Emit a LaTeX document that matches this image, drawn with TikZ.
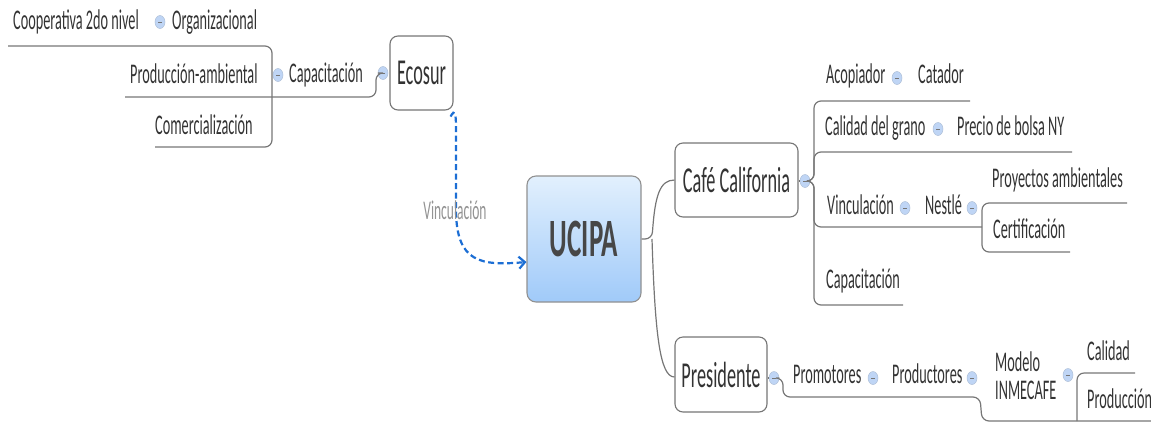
\documentclass[tikz,border=0pt]{standalone}
\usepackage{fontspec}
\setmainfont{Carlito}[FakeStretch=0.5]
\usetikzlibrary{arrows.meta,shapes.geometric,positioning}
\definecolor{inkgray}{HTML}{333333}
\definecolor{branchgray}{HTML}{767676}
\definecolor{foldblue}{HTML}{BFD5F5}
\definecolor{linkblue}{HTML}{1C6ED4}
\definecolor{ucipatop}{HTML}{E2F0FD}
\definecolor{ucipabot}{HTML}{A0CAF9}
\tikzset{
    topic/.style={draw=branchgray, rounded corners=8pt, line width=1.1pt, fill=white,
        text=inkgray, inner sep=0pt, font=\fontsize{36.5}{40}\selectfont},
    central/.style={draw=branchgray!80, rounded corners=9pt, line width=1.1pt,
        top color=ucipatop, bottom color=ucipabot, text=inkgray!90,
        minimum width=114pt, minimum height=126pt, font=\fontsize{54}{58}\selectfont\bfseries},
    sub/.style={anchor=base west, inner sep=0pt, text=inkgray, font=\fontsize{28.5}{28}\selectfont},
    fold/.style={ellipse, fill=foldblue, draw=foldblue!75!gray, line width=0.5pt,
        minimum width=10pt, minimum height=13pt, inner sep=0pt,
        path picture={\draw[branchgray, line width=0.7pt]
            ([xshift=-2pt]path picture bounding box.center) -- ([xshift=2pt]path picture bounding box.center);}},
    branch/.style={draw=branchgray, line width=1.2pt, rounded corners=7pt},
    link/.style={draw=linkblue, line width=2.2pt, dash pattern=on 6pt off 3.5pt,
        -{Straight Barb[length=6pt, width=12pt, line width=2.2pt]}}
}

\begin{document}
\begin{tikzpicture}[x=1pt, y=-1pt]
    \useasboundingbox (0,0) rectangle (1151,424);

    % main topics
    \node[central] (ucipa) at (584,239) {UCIPA};
    \node[topic, minimum width=63pt, minimum height=74pt] (ecosur) at (421.5,73) {Ecosur};
    \node[topic, minimum width=123pt, minimum height=74pt] (cafe) at (736.5,180) {Café California};
    \node[topic, minimum width=92pt, minimum height=75pt] (presid) at (721,374.5) {Presidente};

    % left branch
    \node[sub] (coop) at (13,29) {Cooperativa 2do nivel};
    \node[sub] (organiz) at (172,29) {Organizacional};
    \node[sub] (prodamb) at (130,83) {Producción-ambiental};
    \node[sub] (capL) at (289,82) {Capacitación};
    \node[sub] (comerc) at (155,134) {Comercialización};
    \node[fold] (fOrganiz) at (160,22) {};
    \node[fold] (fCapL) at (278,75) {};
    \node[fold] (fEcosur) at (383,73) {};

    \coordinate (uCoop) at (8,46);
    \coordinate (uComerc) at (155,147);
    \coordinate (uProdamb) at (125,97);
    \draw[branch] (uCoop) -- (272,46) -- (272,147) -- (uComerc);
    \draw[branch] (uProdamb) -- (376,97) -- (376,73) -- (fEcosur.west);

    % link between Ecosur and UCIPA
    \draw[link] ([shift={(-3pt,-6pt)}]ecosur.south east)
        .. controls (455,108) and (456,114) .. (456,128) -- (456,212)
        .. controls (457,262) and (480,266) .. (ucipa.west |- 0,262);
    \node[text=gray!85, font=\fontsize{27}{30}\selectfont, inner sep=0pt] (vincL) at (455,210) {Vinculación};

    % right branches
    \draw[branch] (ucipa.east) -- (652,239)
        .. controls (655,195) and (660,180) .. (cafe.west);
    \draw[branch] (652,239)
        .. controls (655,335) and (660,377) .. (presid.west |- 0,377);

    % Café California
    \node[fold] (fCafe) at (805,181) {};
    \draw[branch] (cafe.east |- fCafe) -- (fCafe.west);
    \node[sub] (acop) at (826,83) {Acopiador};
    \node[sub] (catador) at (918,83) {Catador};
    \node[sub] (calgrano) at (825,135) {Calidad del grano};
    \node[sub] (precio) at (957,135) {Precio de bolsa NY};
    \node[sub] (vinc) at (827,214) {Vinculación};
    \node[sub] (nestle) at (925,214) {Nestlé};
    \node[sub] (proyamb) at (992,187) {Proyectos ambientales};
    \node[sub] (certif) at (993,238) {Certificación};
    \node[sub] (capR) at (826,288) {Capacitación};
    \node[fold] (fAcop) at (897,78) {};
    \node[fold] (fCalgrano) at (938,129) {};
    \node[fold] (fVinc) at (905,208) {};
    \node[fold] (fNestle) at (972,208) {};

    \coordinate (uCatador) at (970,101);
    \coordinate (uPrecio) at (1072,152);
    \coordinate (uProyamb) at (1127,203);
    \coordinate (uCertif) at (1070,252);
    \coordinate (uCapR) at (903,305);
    \draw[branch] (fCafe.east) -- (814,181) -- (814,101) -- (uCatador);
    \draw[branch] (fCafe.east) -- (814,181) -- (814,152) -- (uPrecio);
    \draw[branch] (fCafe.east) -- (814,181) -- (814,227) -- (982,227);
    \draw[branch] (fCafe.east) -- (814,181) -- (814,305) -- (uCapR);
    \draw[branch] (uProyamb) -- (982,203) -- (982,252) -- (uCertif);

    % Presidente
    \node[fold] (fPresid) at (774,378) {};
    \draw[branch] (presid.east |- fPresid) -- (fPresid.west);
    \node[sub] (promot) at (793,383) {Promotores};
    \node[sub] (product) at (892,383) {Productores};
    \node[sub, anchor=west, align=left] (modelo) at (995,376) {Modelo\\INMECAFE};
    \node[sub] (calidad) at (1087,360) {Calidad};
    \node[sub] (produccion) at (1087,408) {Producción};
    \node[fold] (fPromot) at (873,378) {};
    \node[fold] (fProduct) at (972,378) {};
    \node[fold] (fModelo) at (1068,375) {};

    \coordinate (uCalidad) at (1135,373);
    \coordinate (uProduccion) at (1151,421);
    \draw[branch] (fPresid.east) -- (783,378) -- (783,397) -- (980,397) -- (982,421) -- (uProduccion);
    \draw[branch] (uCalidad) -- (1077,373) -- (1077,421);
\end{tikzpicture}
\end{document}
